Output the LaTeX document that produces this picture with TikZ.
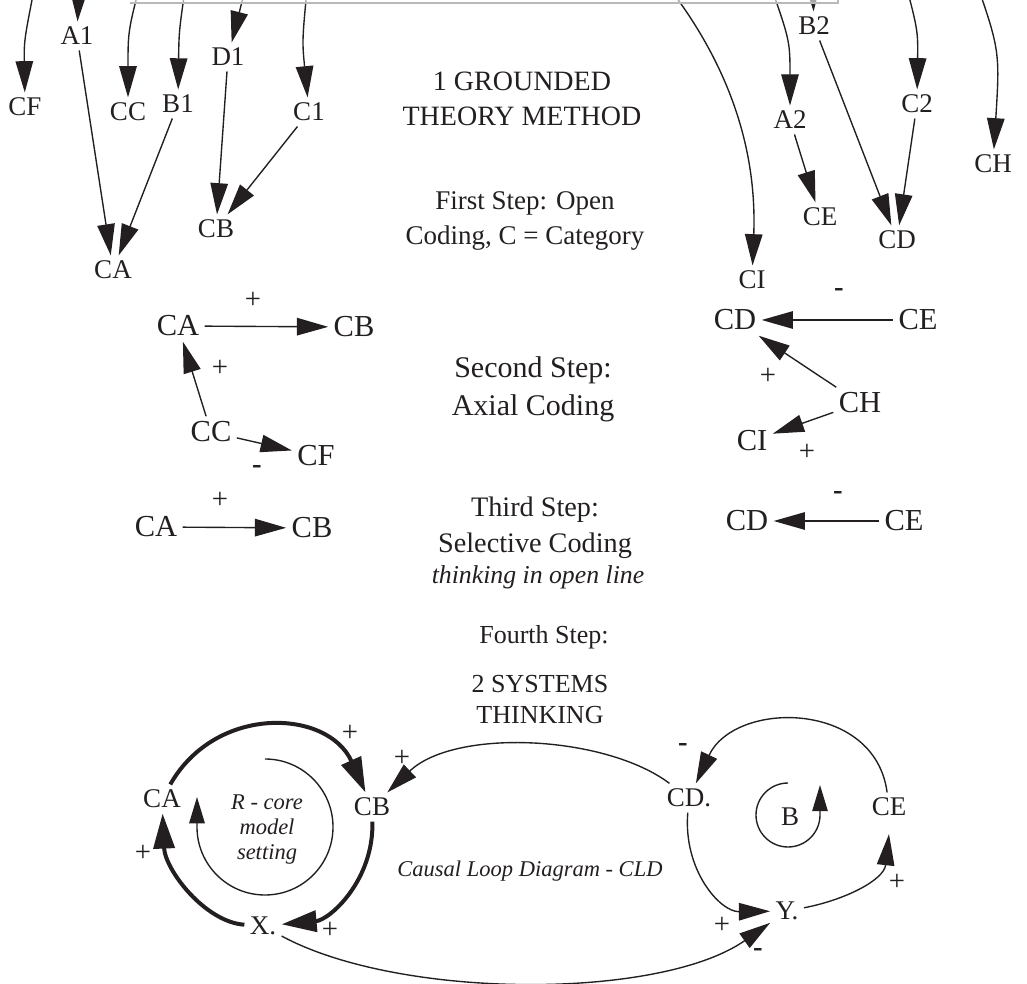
\documentclass[tikz,border=0pt]{standalone}
\usepackage{fontspec}
\setmainfont{Liberation Serif}
\usepackage{xcolor}
\usepackage{tikz}
\usetikzlibrary{arrows.meta}
\definecolor{ink}{HTML}{231F20}

\begin{document}
\begin{tikzpicture}[x=0.4pt,y=-0.4pt,
    every node/.style={text=ink,inner sep=2pt},
    lbl/.style={font=\fontsize{10.8}{13}\selectfont},
    lblb/.style={font=\fontsize{12.2}{14}\selectfont},
    sgn/.style={font=\fontsize{11.5}{13}\selectfont,inner sep=1pt},
    neg/.style={font=\fontsize{11.5}{13}\selectfont\bfseries,inner sep=1pt},
    head/.style={align=center,font=\fontsize{11.2}{14}\selectfont},
    headb/.style={align=center,font=\fontsize{12}{15.2}\selectfont},
    heads/.style={align=center,font=\fontsize{10.4}{12.4}\selectfont},
    note/.style={align=center,font=\fontsize{9}{10}\selectfont\itshape},
    cause/.style={draw=ink,line width=0.55pt,-{Triangle[length=12.5pt,width=7pt]}},
    turn/.style={draw=ink,line width=0.55pt,-{Triangle[length=10.5pt,width=6.2pt]}},
    core/.style={draw=ink,line width=1.6pt,-{Triangle[length=14pt,width=8.4pt]}}]
    \useasboundingbox (0,0) rectangle (1027,984);
    \clip (0,0) rectangle (1027,984);

		    \coordinate (cfin) at (38,-30);
		    \coordinate (a1in) at (80,-40);
		    \coordinate (ccin) at (144,-30);
		    \coordinate (b1in) at (188,-30);
		    \coordinate (d1in) at (250,-30);
		    \coordinate (c1in) at (309,-30);
		    \coordinate (ciin) at (655,-30);
		    \coordinate (a2in) at (765,-30);
		    \coordinate (b2in) at (812,-40);
		    \coordinate (c2in) at (902,-30);
		    \coordinate (chin) at (972,-30);

		    \node[lbl] (cf1) at (25,107) {CF};
		    \node[lbl] (a1)  at (77,36)   {A1};
		    \node[lbl] (cc1) at (128,112) {CC};
		    \node[lbl] (b1)  at (178,104) {B1};
		    \node[lbl] (d1)  at (228,57)  {D1};
		    \node[lbl] (c1)  at (309,112) {C1};
		    \node[lbl] (ca1) at (113,270) {CA};
		    \node[lbl] (cb1) at (216,229) {CB};
		    \node[lbl] (ci1) at (752,280) {CI};
		    \node[lbl] (b2)  at (814,26)  {B2};
		    \node[lbl] (a2)  at (790,120) {A2};
		    \node[lbl] (c2)  at (917,104) {C2};
		    \node[lbl] (ce1) at (820,217) {CE};
		    \node[lbl] (cd1) at (897,240) {CD};
		    \node[lbl] (ch1) at (993,164) {CH};

    \draw[cause] (cfin) .. controls (24,40) .. (cf1);
    \draw[cause] (a1in) -- (a1);
    \draw[cause] (ccin) .. controls (128,30) .. (cc1);
    \draw[cause] (b1in) .. controls (179,30) .. (b1);
    \draw[cause] (d1in) -- (d1);
    \draw[cause] (c1in) .. controls (302,40) .. (c1);
    \draw[cause] (ciin) .. controls (730,60) and (757,150) .. (ci1);
    \draw[cause] (a2in) .. controls (790,40) .. (a2);
    \draw[cause] (b2in) -- (b2);
    \draw[cause] (c2in) .. controls (918,30) .. (c2);
    \draw[cause] (chin) .. controls (1000,50) .. (ch1);
    \draw[cause] (a1)--(ca1);
    \draw[cause] (b1)--(ca1);
    \draw[cause] (d1)--(cb1);
    \draw[cause] (c1)--(cb1);
    \draw[cause] (a2)--(ce1);
    \draw[cause] (b2)--(cd1);
    \draw[cause] (c2)--(cd1);
    \fill[white,opacity=.6] (130,-50) rectangle (838,3);
    \draw[gray!55,line width=0.5pt] (130,3) -- (838,3) -- (838,-10);

		    \node[head] (gtm) at (522,99) {1 GROUNDED\\THEORY METHOD};
		    \node[head,font=\fontsize{10.8}{14}\selectfont] (open) at (525,221) {First Step: Open\\Coding, C = Category};
		    \node[headb] (axial) at (533,389) {Second Step:\\Axial Coding};
		    \node[head,font=\fontsize{11.3}{14.4}\selectfont] (sel) at (535,528) {Third Step:\\Selective Coding};
		    \node[note,font=\fontsize{10.3}{12}\selectfont\itshape] (thk) at (538,577) {thinking in open line};
		    \node[heads] (fourth) at (544,637) {Fourth Step:};
		    \node[heads] (syst) at (540,700) {2 SYSTEMS\\THINKING};

		    \node[lblb] (ca2) at (178,326) {CA};
		    \node[lblb] (cb2) at (354,327) {CB};
		    \node[lblb] (cc2) at (211,432) {CC};
		    \node[lblb] (cf2) at (316,456) {CF};
		    \node[lblb] (cd2) at (735,320) {CD};
		    \node[lblb] (ce2) at (918,320) {CE};
		    \node[lblb] (ch2) at (860,403) {CH};
		    \node[lblb] (ci2) at (752,441) {CI};
    \draw[cause] (ca2)--(cb2);
    \draw[cause] (cc2)--(ca2);
    \draw[cause] (cc2)--(cf2);
    \draw[cause] (ce2)--(cd2);
    \draw[cause] (ch2)--(cd2);
    \draw[cause] (ch2)--(ci2);
		    \node[sgn] (s1) at (253,300) {+};
		    \node[sgn] (s2) at (220,368) {+};
		    \node[neg] (s3) at (257,470) {-};
		    \node[neg] (s4) at (839,293) {-};
		    \node[sgn] (s5) at (768,376) {+};
		    \node[sgn] (s6) at (807,452) {+};

		    \node[lblb] (ca3) at (156,527) {CA};
		    \node[lblb] (cb3) at (312,528) {CB};
		    \node[lblb] (cd3) at (747,521) {CD};
		    \node[lblb] (ce3) at (904,521) {CE};
    \draw[cause] (ca3)--(cb3);
    \draw[cause] (ce3)--(cd3);
		    \node[sgn] (s7) at (220,500) {+};
		    \node[neg] (s8) at (838,496) {-};

		    \node[lbl] (ca4) at (162,799) {CA};
		    \node[lbl] (cb4) at (372,807) {CB};
		    \node[lbl] (x4)  at (263,926) {X.};
		    \node[lbl] (cd4) at (689,798) {CD.};
		    \node[lbl] (ce4) at (889,807) {CE};
		    \node[lbl] (y4)  at (787,911) {Y.};
		    \node[lbl] (b4)  at (790,817) {B};
		    \node[note] (rcore) at (267,830) {R - core\\model\\setting};
		    \node[note] (cld) at (530,871) {Causal Loop Diagram - CLD};
    \draw[core] (ca4) .. controls (216,704) and (328,709) .. (cb4);
    \draw[core] (cb4) .. controls (374,880) and (330,920) .. (x4);
    \draw[core] (x4) .. controls (205,922) and (165,870) .. (ca4);
    \draw[turn] (265,759) arc[start angle=90,end angle=-180,radius=27.2pt] -- ++(0,-30);
    \draw[cause] (cd4) .. controls (605,735) and (455,728) .. (cb4);
    \draw[cause] (x4) .. controls (400,1000) and (660,1000) .. (y4);
    \draw[cause] (cd4) .. controls (683,870) and (720,912) .. (y4);
    \draw[cause] (y4) .. controls (845,900) and (884,880) .. ([yshift=-5pt]ce4.south);
    \draw[cause] (ce4) .. controls (875,700) and (735,700) .. (cd4);
    \draw[turn] (788,783) arc[start angle=90,end angle=360,radius=12.8pt] -- ++(0,-30);
		    \node[sgn] (s9)  at (350,733) {+};
		    \node[sgn] (s10) at (402,758) {+};
		    \node[sgn] (s11) at (143,853) {+};
		    \node[sgn] (s12) at (330,930) {+};
		    \node[sgn] (s13) at (722,925) {+};
		    \node[neg] (s14) at (758,953) {-};
		    \node[sgn] (s15) at (897,882) {+};
		    \node[neg] (s16) at (683,748) {-};
   	\end{tikzpicture}
\end{document}
